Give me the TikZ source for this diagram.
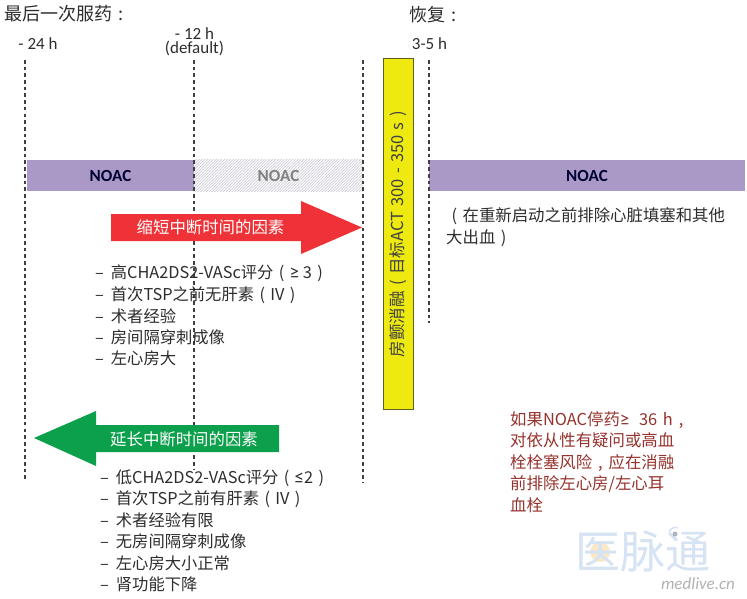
\documentclass[tikz,border=0pt]{standalone}
\usepackage{fontspec}
\setmainfont{Noto Sans CJK SC}
\newfontfamily\latinf{Carlito}
\usetikzlibrary{patterns.meta}
\definecolor{noacbar}{RGB}{170,153,198}
\definecolor{darktxt}{RGB}{45,45,45}
\definecolor{arrowred}{RGB}{238,50,56}
\definecolor{arrowgreen}{RGB}{12,160,76}
\definecolor{barye}{RGB}{238,234,16}
\definecolor{baredge}{RGB}{95,95,30}
\definecolor{notered}{RGB}{150,50,45}
\definecolor{wmblue}{RGB}{214,227,243}
\definecolor{wmorange}{RGB}{250,232,200}
\definecolor{hatchc}{RGB}{205,205,216}
\newcommand{\lpr}{\makebox[1em][c]{(}}
\newcommand{\rpr}{\makebox[1em][c]{)}}
\newcommand{\fcolon}{\makebox[1em][c]{:}}
\newcommand{\fcomma}{\makebox[1em][c]{,}}
\newcommand{\gequ}{{\latinf\fontsize{19}{19}\selectfont ≥}}
\newcommand{\lequ}{{\latinf\fontsize{19}{19}\selectfont ≤}}
\tikzset{
  x=1pt,y=-1pt,
  guide/.style={draw=black!75,line width=1.1pt,dash pattern=on 3.6pt off 3.1pt},
  noacbox/.style={fill=noacbar,draw=none,inner sep=0pt,font=\latinf\bfseries\fontsize{17}{17}\selectfont,text=black!80!blue},
  hatchbox/.style={draw=none,inner sep=0pt,font=\latinf\bfseries\fontsize{17}{17}\selectfont,text=black!50,pattern={Lines[angle=45,distance=2pt,line width=0.7pt]},pattern color=hatchc},
  head/.style={anchor=west,inner sep=0pt,font=\fontsize{18}{18}\selectfont,text=darktxt},
  tick/.style={inner sep=0pt,font=\latinf\fontsize{17}{14}\selectfont,text=darktxt,align=center},
  listitem/.style={anchor=west,inner sep=0pt,font=\fontsize{16.3}{16.3}\selectfont,text=darktxt},
  arrowlabel/.style={inner sep=0pt,font=\fontsize{16.4}{16.4}\selectfont,text=white},
}
\begin{document}
\begin{tikzpicture}
\useasboundingbox (0,0) rectangle (747,599);
\fill[white] (0,0) rectangle (747,599);

% watermark
\fill[wmorange] (600,552) circle[radius=10];
\node[inner sep=0pt,text=wmblue,font=\fontsize{45}{45}\selectfont] (wm) at (643,551) {医脉通};
\fill[wmblue!80!black] (675,534) circle[radius=2.5];
\draw[wmblue,line width=1.5pt] (669,532) arc[start angle=200,end angle=290,radius=7];
\node[inner sep=0pt,text=black!30,font=\latinf\itshape\fontsize{17}{17}\selectfont] (wmurl) at (698,584) {medlive.cn};

% bars
\node[noacbox,minimum width=167pt,minimum height=31pt] (n1) at (110.5,175.5) {NOAC};
\node[hatchbox,minimum width=169pt,minimum height=31pt] (n2) at (278.5,175.5) {NOAC};
\node[noacbox,minimum width=316pt,minimum height=31pt] (n3) at (587,175.5) {NOAC};

% guide lines
\coordinate (g1t) at (25,60); \coordinate (g1b) at (25,482);
\coordinate (g2t) at (194,60); \coordinate (g2b) at (194,469);
\coordinate (g3t) at (363,60); \coordinate (g3b) at (363,483);
\coordinate (g4t) at (429,60); \coordinate (g4b) at (429,323);
\draw[guide] (g1t) -- (g1b);
\draw[guide] (g2t) -- (g2b);
\draw[guide] (g3t) -- (g3b);
\draw[guide] (g4t) -- (g4b);

% heads and ticks
\node[head] (h1) at (4,14) {最后一次服药\fcolon};
\node[head] (h2) at (409,15) {恢复\fcolon};
\node[tick] (t1) at (38,44) {- 24 h};
\node[tick] (t2) at (194.5,42) {- 12 h\\(default)};
\node[tick] (t3) at (429.5,44) {3-5 h};

% red arrow
\fill[arrowred] (111,214) -- (301,214) -- (301,201) -- (362,227.5) -- (301,254) -- (301,241) -- (111,241) -- cycle;
\node[arrowlabel] (ra) at (210.5,227) {缩短中断时间的因素};

% green arrow
\fill[arrowgreen] (34,438) -- (96,411) -- (96,425) -- (279,425) -- (279,452) -- (96,452) -- (96,466) -- cycle;
\node[arrowlabel] (ga) at (184,439) {延长中断时间的因素};

% yellow bar
\node[fill=barye,draw=baredge,line width=0.9pt,minimum width=30pt,minimum height=351pt,inner sep=0pt] (ybar) at (398.5,233.5) {};
\node[rotate=90,inner sep=0pt,text=black!75,font=\fontsize{16.5}{16.5}\selectfont] (ylab) at (398.5,231.5) {房颤消融\lpr 目标ACT\hspace{1.5pt} 300 \hspace{1.5pt}-\hspace{1.5pt} 350\hspace{1.5pt} s\rpr};

% lists
\node[listitem] (a1) at (95,273.5) {–\hspace{7pt}高CHA2DS2-VASc评分\lpr\gequ\ 3\rpr};
\node[listitem] (a2) at (95,295) {–\hspace{7pt}首次TSP之前无肝素\lpr IV\rpr};
\node[listitem] (a3) at (95,316) {–\hspace{7pt}术者经验};
\node[listitem] (a4) at (95,337) {–\hspace{7pt}房间隔穿刺成像};
\node[listitem] (a5) at (95,358.5) {–\hspace{7pt}左心房大};

\node[listitem] (b1) at (100,478.5) {–\hspace{7pt}低CHA2DS2-VASc评分\lpr\lequ 2\rpr};
\node[listitem] (b2) at (100,499.5) {–\hspace{7pt}首次TSP之前有肝素\lpr IV\rpr};
\node[listitem] (b3) at (100,520.5) {–\hspace{7pt}术者经验有限};
\node[listitem] (b4) at (100,541.5) {–\hspace{7pt}无房间隔穿刺成像};
\node[listitem] (b5) at (100,563) {–\hspace{7pt}左心房大小正常};
\node[listitem] (b6) at (100,584) {–\hspace{7pt}肾功能下降};

% right notes
\node[anchor=north west,inner sep=0pt,text=darktxt,font=\fontsize{16.4}{22}\selectfont,align=left] (rn) at (446,207) {\lpr 在重新启动之前排除心脏填塞和其他\\大出血\rpr};
\node[anchor=north west,inner sep=0pt,text=notered,font=\fontsize{16.4}{21.6}\selectfont,align=left] (wn) at (510,411) {如果NOAC停药\gequ\hspace{6pt} 36\hspace{2pt} h\fcomma\\对依从性有疑问或高血\\栓栓塞风险\fcomma 应在消融\\前排除左心房/左心耳\\血栓};
\end{tikzpicture}
\end{document}
